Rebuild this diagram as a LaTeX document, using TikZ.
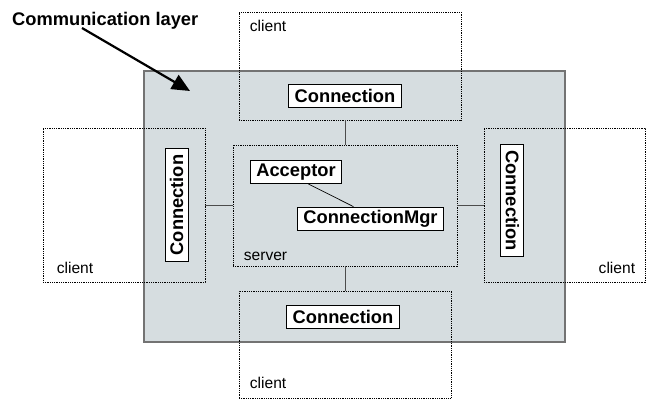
\documentclass[tikz,border=0pt]{standalone}
\usepackage{fontspec}
\setmainfont{Liberation Sans}
\usetikzlibrary{positioning, arrows.meta}
\definecolor{layergray}{RGB}{214,221,224}
\newcommand{\bigfont}{\fontsize{18.3}{22}\selectfont\bfseries}
\newcommand{\smallfont}{\fontsize{15.6}{19}\selectfont}

\begin{document}
\begin{tikzpicture}[x=1pt, y=-1pt,
		layerbox/.style={draw=black!55, line width=1.2pt, fill=layergray, inner sep=0pt},
		areabox/.style={draw, dash pattern=on 0.9pt off 0.9pt, line width=0.7pt, inner sep=0pt},
		classbox/.style={draw, fill=white, line width=0.9pt, font=\bigfont, inner xsep=6pt, minimum height=23pt},
		tag/.style={font=\smallfont, inner sep=0pt},
		link/.style={draw=black!70, line width=0.9pt},
		pointer/.style={-{Triangle[length=18pt, width=16pt]}, line width=2.2pt}
		]
		\useasboundingbox (0,0) rectangle (646,401);
		
		% COMMUNICATION LAYER
		\node[layerbox, minimum width=421pt, minimum height=271pt] (layer) at (354.5,206.5) {};
		\node[font=\bigfont, inner sep=0pt, anchor=base west] (lbl) at (12,26) {Communication layer};
		\coordinate (tip) at (190,91);
		\draw[pointer] ([xshift=70pt, yshift=-2pt]lbl.base west) -- (tip);
		
		% CLIENT AREAS
		\node[areabox, minimum width=222pt, minimum height=108pt] (tc) at (350,66) {};
		\node[areabox, minimum width=162pt, minimum height=154pt] (lc) at (124,205) {};
		\node[areabox, minimum width=161pt, minimum height=154pt] (rc) at (564.5,205) {};
		\node[areabox, minimum width=212pt, minimum height=107pt] (bc) at (345,344.5) {};
		\node[tag, anchor=base west] (tctag) at ([xshift=11pt, yshift=-20pt]tc.north west) {client};
		\node[tag, anchor=base west] (lctag) at ([xshift=14pt, yshift=9pt]lc.south west) {client};
		\node[tag, anchor=base east] (rctag) at ([xshift=-10pt, yshift=9pt]rc.south east) {client};
		\node[tag, anchor=base west] (bctag) at ([xshift=11pt, yshift=10pt]bc.south west) {client};
		
		% SERVER AREA
		\node[areabox, minimum width=224pt, minimum height=121pt] (srv) at (345,205.5) {};
		\node[tag, anchor=base west] (srvtag) at ([xshift=11pt, yshift=6pt]srv.south west) {server};
		\node[classbox] (acc) at (296,172) {Acceptor};
		\node[classbox] (mgr) at (370.5,219) {ConnectionMgr};
		
		% CONNECTIONS
		\node[classbox] (tcon) at (345,96) {Connection};
		\node[classbox, rotate=90] (lcon) at (176.7,205) {Connection};
		\node[classbox, rotate=-90] (rcon) at (512.3,200.5) {Connection};
		\node[classbox] (bcon) at (343,317) {Connection};
		
		% LINKS
		\draw[line width=0.7pt] (acc.-44) -- (mgr.144);
		\draw[link] (srv.north) -- (srv.north |- tc.south);
		\draw[link] (srv.south) -- (srv.south |- bc.north);
		\draw[link] (srv.west) -- (srv.west -| lc.east);
		\draw[link] (srv.east) -- (srv.east -| rc.west);
		
\end{tikzpicture}
\end{document}
